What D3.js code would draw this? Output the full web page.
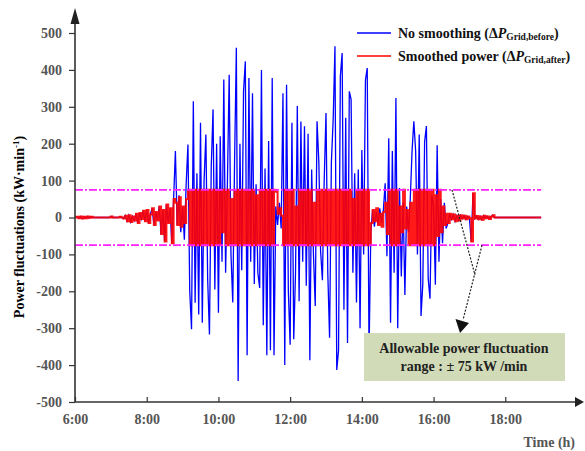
<!DOCTYPE html>
<head>
<title>Power fluctuations before and after smoothing</title>
<script src="https://d3js.org/d3.v7.min.js"></script>
</head>

<style>
body { margin: 0; background: #fff; }
text { font-family: "Liberation Serif", "Times New Roman", serif; font-weight: bold; }
</style>

<body>
</body>

<script>

// time axis: one sample every 3 minutes from 6:00 to 19:00
var startHour = 6;
var stepMinutes = 3;

// hour ticks shown on the x axis
var hourTicks = [6, 8, 10, 12, 14, 16, 18];
var powerTicks = [-500, -400, -300, -200, -100, 0, 100, 200, 300, 400, 500];

// allowable fluctuation limit (kW/min)
var limit = 75;

// delta P grid before smoothing (kW/min)
var noSmoothing = [
	0, 2, -2, 3, -3, 2, -2, 3, -1, 2,
	0, 0, 0, 0, 0, 0, 0, 0, 0, 0,
	3, 0, 0, 0, 0, 2, 0, -3, 5, -10,
	6, -12, 3, -8, 10, -15, 12, -4, 18, -10,
	20, -15, 8, 25, -20, 15, -8, 30, -45, 20,
	-65, 35, -15, 25, -70, 50, 180, -20, 60, -40,
	30, -60, 90, 198, -200, -303, 315, -231, 120, -263,
	257, -285, 100, 225, -168, -317, 139, 293, -195, 200,
	-258, 220, -120, 374, -150, 90, 387, -100, -230, 150,
	460, -443, 200, -143, 342, 423, -373, 378, -120, 337,
	-180, 90, -150, -191, 400, -292, 133, -373, 207, -360,
	378, -373, 30, -20, 40, -30, 337, -400, 360, -200,
	-345, 257, -330, -150, 302, -227, 260, -120, 247, -185,
	227, -387, 130, -100, -240, 261, 152, -92, -170, 100,
	283, -150, -326, 150, 265, 464, -413, -360, 383, 446,
	-250, 270, -340, 342, 320, -150, 120, -230, 130, -300,
	183, -100, 373, 405, -370, -40, 20, -25, 15, -20,
	25, -15, 20, 93, -105, 215, -285, 180, -150, 324,
	-300, 80, -160, 40, -210, 30, -40, 50, 180, 261,
	180, -100, 225, -267, -180, 205, 248, -165, -220, 60,
	30, -182, 196, -120, 50, -70, 40, -30, -15, 10,
	-5, 8, -10, 5, -8, 6, -3, 5, -5, 3,
	-2, -65, 66, -3, 4, -5, 3, -6, 5, -2,
	3, -4, 2, 6, 0, 0, 0, 0, 0, 0,
	0, 0, 0, 0, 0, 0, 0, 0, 0, 0,
	0, 0, 0, 0, 0, 0, 0, 0, 0, 0,
	0
];

// delta P grid after smoothing (kW/min)
var smoothed = [
	0, 2, -2, 3, -3, 2, -2, 3, -1, 2,
	0, 0, 0, 0, 0, 0, 0, 0, 0, 0,
	3, 0, 0, 0, 0, 2, 0, -3, 5, -10,
	6, -12, 3, -8, 10, -15, 12, -4, 18, -10,
	20, -15, 8, 25, -20, 15, -8, 30, -45, 20,
	-65, 35, -15, 25, -70, 50, 40, -20, 55, -25,
	30, -15, 50, 75, -75, 75, -75, 75, -75, 75,
	-75, 75, -75, 75, -75, 75, -75, 75, -75, 75,
	-75, 75, -40, 75, -75, 75, -75, 50, -75, 75,
	-75, 75, -75, 75, -75, 75, -75, 75, -75, 75,
	-75, 60, -75, 75, -75, 75, -75, 75, -75, 75,
	-75, 75, 70, 10, 25, 5, -75, 75, -75, 75,
	-75, 75, -75, 30, -75, 75, -75, 75, -75, 75,
	-75, 75, -75, 40, -75, 75, -75, 75, -75, 75,
	-75, 75, -75, 75, -75, 75, -75, 75, -75, 75,
	-75, 75, -75, 75, -75, 50, -75, 75, -75, 75,
	-75, 75, -75, 75, -75, -15, 20, -10, 25, -20,
	10, -25, 15, 40, -45, 75, -75, 75, -75, 75,
	-75, 30, -40, 75, -30, 20, -75, 40, -75, 75,
	-75, 75, -75, 75, -75, 75, -75, 75, -75, 75,
	-75, 60, -50, 75, -40, 30, -20, 10, -15, 10,
	-5, 8, -10, 5, -8, 6, -3, 5, -5, 3,
	-2, -65, 66, -3, 4, -5, 3, -6, 5, -2,
	3, -4, 2, 6, 0, 0, 0, 0, 0, 0,
	0, 0, 0, 0, 0, 0, 0, 0, 0, 0,
	0, 0, 0, 0, 0, 0, 0, 0, 0, 0,
	0
];

var width = 585;
var height = 451;

var svg = d3.select("body").append("svg")
	.attr("width", width)
	.attr("height", height);

var xChart = d3.scaleLinear().domain([6, 20]).range([75, 577]);
var yChart = d3.scaleLinear().domain([-500, 500]).range([402, 33]);

function hourOf(i) { return startHour + i * stepMinutes / 60; }

var line = d3.line()
	.x(function(d, i) { return xChart(hourOf(i)); })
	.y(function(d) { return yChart(d); });

// series
svg.append("path")
	.datum(noSmoothing)
	.attr("fill", "none")
	.attr("stroke", "#0000ff")
	.attr("stroke-width", 1.3)
	.attr("d", line);

svg.append("path")
	.datum(smoothed)
	.attr("fill", "none")
	.attr("stroke", "#ff0000")
	.attr("stroke-opacity", 0.9)
	.attr("stroke-width", 2)
	.attr("d", line.curve(d3.curveStepAfter));

// allowable range lines
[limit, -limit].forEach(function(v) {
	svg.append("line")
		.attr("x1", xChart(6)).attr("x2", xChart(19))
		.attr("y1", yChart(v)).attr("y2", yChart(v))
		.attr("stroke", "#ff22ff")
		.attr("stroke-width", 1.8)
		.attr("stroke-dasharray", "8,2,2,2");
});

//left axis
var yAxis = d3.axisLeft(yChart).tickValues(powerTicks).tickSize(6).tickPadding(7)
	.tickFormat(function(d) { return String(d); });
var gy = svg.append("g")
	.attr("transform", "translate(75,0)")
	.call(yAxis);
gy.select(".domain").remove();
gy.selectAll(".tick line").attr("stroke", "#333").attr("stroke-width", 1.2);
gy.selectAll(".tick text")
	.attr("fill", "#555")
	.style("font-size", "14px")
	.style("font-family", "Liberation Serif")
	.style("font-weight", "bold");

//bottom axis
var xAxis = d3.axisBottom(xChart).tickValues(hourTicks).tickSize(-5).tickPadding(12)
	.tickFormat(function(d) { return d + ":00"; });
var gx = svg.append("g")
	.attr("transform", "translate(0,402)")
	.call(xAxis);
gx.select(".domain").remove();
gx.selectAll(".tick line").attr("stroke", "#333").attr("stroke-width", 1.2);
gx.selectAll(".tick text")
	.attr("fill", "#555")
	.style("font-size", "14px")
	.style("font-family", "Liberation Serif")
	.style("font-weight", "bold");

// axis lines with arrows
svg.append("line").attr("x1", 75).attr("y1", 402).attr("x2", 576).attr("y2", 402)
	.attr("stroke", "#333").attr("stroke-width", 1.6);
svg.append("polygon").attr("points", "584,402 575,397 575,407").attr("fill", "#222");
svg.append("line").attr("x1", 75).attr("y1", 402).attr("x2", 75).attr("y2", 18)
	.attr("stroke", "#333").attr("stroke-width", 1.6);
svg.append("polygon").attr("points", "75,8 70.5,24 79.5,24").attr("fill", "#222");

// axis titles
svg.append("text")
	.attr("transform", "translate(24,227) rotate(-90)")
	.attr("text-anchor", "middle")
	.style("font-size", "14px")
	.attr("fill", "#000")
	.html('Power fluctuations (kW·min<tspan dy="-5" font-size="9">-1</tspan><tspan dy="5">)</tspan>');

svg.append("text")
	.attr("x", 575).attr("y", 447)
	.attr("text-anchor", "end")
	.attr("fill", "#555")
	.style("font-size", "14px")
	.text("Time (h)");

// legend
var legend = [
	{ color: "#0000ff", label: "No smoothing (Δ", sub: "Grid,before", y: 33 },
	{ color: "#ff0000", label: "Smoothed power (Δ", sub: "Grid,after", y: 56 }
];
legend.forEach(function(l) {
	svg.append("line")
		.attr("x1", 357).attr("x2", 391)
		.attr("y1", l.y).attr("y2", l.y)
		.attr("stroke", l.color).attr("stroke-width", 1.6);
	var t = svg.append("text")
		.attr("x", 398).attr("y", l.y + 5)
		.attr("fill", "#111")
		.style("font-size", "14px");
	t.append("tspan").text(l.label);
	t.append("tspan").style("font-style", "italic").text("P");
	t.append("tspan").attr("dy", 2).style("font-size", "9.5px").text(l.sub);
	t.append("tspan").attr("dy", -2).text(")");
});

// annotation box
svg.append("rect")
	.attr("x", 364).attr("y", 333)
	.attr("width", 201).attr("height", 48)
	.attr("fill", "#d1dbb8");
svg.append("text")
	.attr("x", 464).attr("y", 353)
	.attr("text-anchor", "middle")
	.attr("fill", "#222")
	.style("font-size", "14px")
	.text("Allowable power fluctuation");
svg.append("text")
	.attr("x", 464).attr("y", 370.5)
	.attr("text-anchor", "middle")
	.attr("fill", "#222")
	.style("font-size", "14px")
	.text("range : ± 75 kW /min");

// dotted pointer lines
svg.append("line")
	.attr("x1", 452).attr("y1", yChart(limit))
	.attr("x2", 475).attr("y2", 275)
	.attr("stroke", "#222").attr("stroke-width", 1.2)
	.attr("stroke-dasharray", "2,1.5");
svg.append("line")
	.attr("x1", 482).attr("y1", yChart(-limit))
	.attr("x2", 463).attr("y2", 320)
	.attr("stroke", "#222").attr("stroke-width", 1.2)
	.attr("stroke-dasharray", "2,1.5");
svg.append("polygon")
	.attr("points", "460,333 455.5,319 469,323")
	.attr("fill", "#111");

</script>
